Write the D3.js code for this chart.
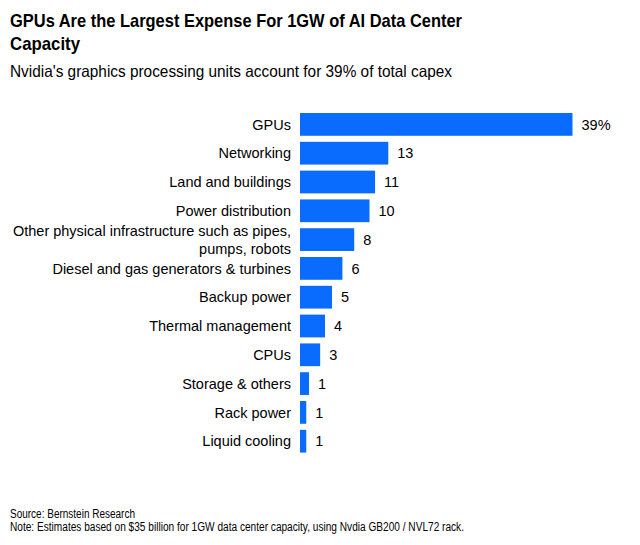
<!DOCTYPE html>
<html>
<head>
  <meta charset="utf-8">
  <style>
    body { margin: 0; background: #fff; }
    svg text { font-family: "Liberation Sans", Arial, sans-serif; fill: #000; }
  </style>
</head>
<body>
  <svg id="chart" width="640" height="545"></svg>
<script src="https://cdn.jsdelivr.net/npm/d3@7"></script>
<script>
// categories, top to bottom
const categories = [
  "GPUs",
  "Networking",
  "Land and buildings",
  "Power distribution",
  "Other physical infrastructure such as pipes,|pumps, robots",
  "Diesel and gas generators & turbines",
  "Backup power",
  "Thermal management",
  "CPUs",
  "Storage & others",
  "Rack power",
  "Liquid cooling"
];
// share of capex (%)
const shares = [39.2, 12.7, 10.8, 10.0, 7.8, 6.1, 4.6, 3.6, 2.9, 1.3, 0.9, 0.9];
// printed labels
const valueLabels = ["39%", "13", "11", "10", "8", "6", "5", "4", "3", "1", "1", "1"];

const rows = categories.map((c, i) => ({ name: c, value: shares[i], label: valueLabels[i] }));

const svg = d3.select("#chart");

// titles (narrow house font, squeezed to the original widths)
function addText(xp, yp, size, weight, len, str) {
  svg.append("text").attr("x", xp).attr("y", yp)
    .style("font-size", size).style("font-weight", weight)
    .attr("textLength", len).attr("lengthAdjust", "spacingAndGlyphs")
    .text(str);
}
addText(10, 27, "19px", "bold", 452, "GPUs Are the Largest Expense For 1GW of AI Data Center");
addText(10, 50, "19px", "bold", 70, "Capacity");
addText(10, 77, "16.5px", "normal", 442, "Nvidia's graphics processing units account for 39% of total capex");

const x = d3.scaleLinear()
  .domain([0, 39.2])
  .range([300, 572.5]);

const y = d3.scaleBand()
  .domain(rows.map(d => d.name))
  .range([110, 455.6])
  .paddingInner(0.21)
  .paddingOuter(0.105);

const g = svg.append("g");

g.selectAll("rect")
  .data(rows)
  .enter()
  .append("rect")
  .attr("x", x(0))
  .attr("y", d => y(d.name))
  .attr("width", d => x(d.value) - x(0))
  .attr("height", y.bandwidth())
  .style("fill", "#0a6cff");

g.selectAll("text.val")
  .data(rows)
  .enter()
  .append("text")
  .attr("class", "val")
  .attr("x", d => x(d.value) + 9)
  .attr("y", d => y(d.name) + y.bandwidth() / 2)
  .attr("dy", "0.36em")
  .style("font-size", "14.5px")
  .text(d => d.label);

// category labels (axis without line/ticks)
const yAxis = d3.axisLeft(y).tickSize(0).tickPadding(9).tickFormat(() => "");
const axisG = svg.append("g")
  .attr("transform", `translate(${x(0)},0)`)
  .call(yAxis);
axisG.select(".domain").remove();
axisG.selectAll(".tick text").each(function(d) {
  const parts = d.split("|");
  const t = d3.select(this)
    .attr("x", -9)
    .attr("dy", null)
    .attr("y", 0)
    .style("font-size", "14.5px")
    .attr("fill", "#000")
    .attr("font-family", null)
    .attr("text-anchor", "end");
  const lh = 18;
  const start = -(parts.length - 1) * lh / 2;
  parts.forEach((p, i) => {
    t.append("tspan").attr("x", -9)
      .attr("y", start + i * lh)
      .attr("dy", "0.36em")
      .text(p);
  });
});

// footer
addText(10, 518, "12px", "normal", 125, "Source: Bernstein Research");
addText(10, 531, "12px", "normal", 454, "Note: Estimates based on $35 billion for 1GW data center capacity, using Nvdia GB200 / NVL72 rack.");
</script>
</body>
</html>
